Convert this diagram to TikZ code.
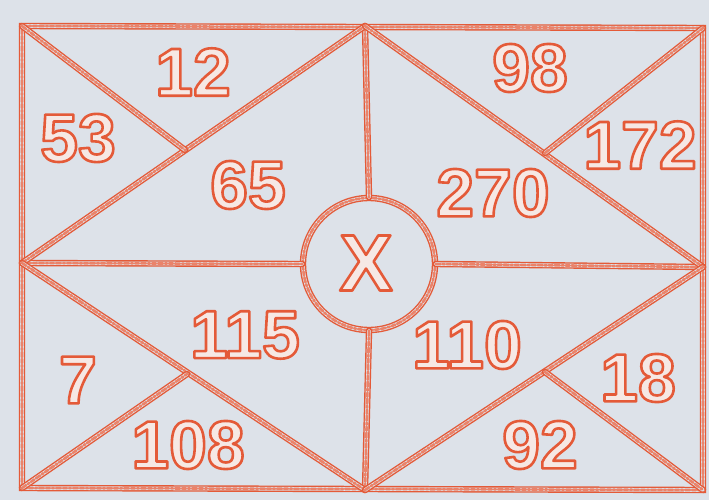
\documentclass[tikz,border=0pt]{standalone}
\usepackage{fontspec}
\setmainfont{Liberation Sans}
\definecolor{bg}{HTML}{DDE2E9}
\definecolor{ink}{HTML}{E45A38}
\definecolor{numfill}{HTML}{F6E8E4}
\tikzset{
  rope/.style={draw=ink, line width=1.4pt, double=bg, double distance=3.6pt, line cap=round,
    postaction={draw=ink!75, line width=2.6pt, dash pattern=on 5pt off 2pt on 2pt off 2pt on 4pt off 2pt}},
  numtxt/.style={text=numfill, font=\fontsize{68}{68}\selectfont\bfseries, inner sep=0pt},
  bigx/.style={text=numfill, font=\fontsize{80}{80}\selectfont\bfseries, inner sep=0pt},
}
\newcommand{\outl}[1]{\special{pdf:literal direct 2 Tr 2.6 w 1 j 0.894 0.353 0.220 RG}#1\special{pdf:literal direct 0 Tr 1 w}}
\begin{document}
\begin{tikzpicture}[x=1pt,y=-1pt]
\useasboundingbox (0,0) rectangle (709,500);
\fill[bg] (0,0) rectangle (709,500);
% corners and junctions
\coordinate (TL) at (22,26);
\coordinate (TM) at (365,26);
\coordinate (TR) at (703,28);
\coordinate (ML) at (22,263);
\coordinate (MR) at (703,267);
\coordinate (BL) at (22,488);
\coordinate (BM) at (365,490);
\coordinate (BR) at (703,490);
\coordinate (A) at (185,150);
\coordinate (B) at (545,153);
\coordinate (D) at (187,374);
\coordinate (E) at (545,372);
% center circle
\node[rope, circle, minimum size=132pt, inner sep=0pt] (C) at (369,264) {};
% frame
\draw[rope] (TL) -- (TR) -- (BR) -- (BL) -- cycle;
% dividers
\draw[rope] (TM) -- (C.north);
\draw[rope] (C.south) -- (BM);
\draw[rope] (ML) -- (C.west);
\draw[rope] (C.east) -- (MR);
% diagonals
\draw[rope] (ML) -- (TM);
\draw[rope] (TL) -- (A);
\draw[rope] (TM) -- (MR);
\draw[rope] (B) -- (TR);
\draw[rope] (ML) -- (BM);
\draw[rope] (BL) -- (D);
\draw[rope] (BM) -- (MR);
\draw[rope] (E) -- (BR);
% numbers
\node[numtxt] (n12) at (193,72) {\outl{12}};
\node[numtxt] (n53) at (78,138) {\outl{53}};
\node[numtxt] (n65) at (248,185) {\outl{65}};
\node[numtxt] (n98) at (530,68) {\outl{98}};
\node[numtxt] (n172) at (640,145) {\outl{172}};
\node[numtxt] (n270) at (493,193) {\outl{270}};
\node[bigx] (nX) at (366,263) {\outl{X}};
\node[numtxt] (n115) at (245,335) {\outl{115}};
\node[numtxt] (n7) at (78,380) {\outl{7}};
\node[numtxt] (n108) at (188,445) {\outl{108}};
\node[numtxt] (n110) at (467,345) {\outl{110}};
\node[numtxt] (n18) at (638,378) {\outl{18}};
\node[numtxt] (n92) at (540,445) {\outl{92}};
\end{tikzpicture}
\end{document}
